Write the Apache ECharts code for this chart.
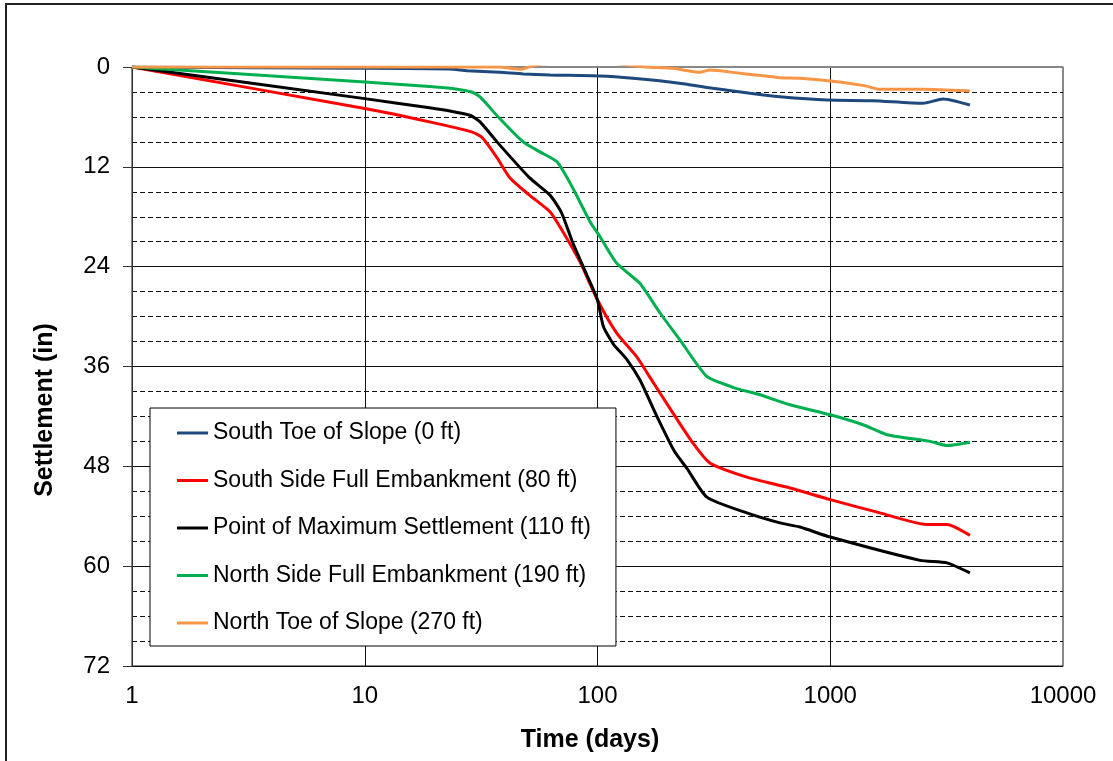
<!DOCTYPE html>
<html>
<head>
<meta charset="utf-8">
<script src="https://cdn.jsdelivr.net/npm/echarts@6/dist/echarts.min.js"></script>
<style>
  html, body { margin: 0; padding: 0; background: #fff; }
  #chart { width: 1113px; height: 761px; }
</style>
</head>
<body>
<div id="chart"></div>
<script>
// time in days (log axis), settlement in inches
const seriesNames = [
    'South Toe of Slope (0 ft)',
    'South Side Full Embankment (80 ft)',
    'Point of Maximum Settlement (110 ft)',
    'North Side Full Embankment (190 ft)',
    'North Toe of Slope (270 ft)'
];

const southToeDays = [1, 10, 23, 27.5, 38, 48, 62.5, 102, 142, 233, 313, 452, 608, 968, 1527, 2501, 3051, 3981];
const southToeVals = [0, 0.15, 0.25, 0.44, 0.64, 0.84, 0.96, 1.08, 1.36, 2.0, 2.56, 3.16, 3.57, 3.97, 4.05, 4.36, 3.85, 4.57];

const southSideDays = [1, 10, 19, 28.8, 32, 37, 42, 51, 62.5, 71, 84, 100, 121, 148, 168, 211, 257, 304, 438, 671, 1000, 1637, 2606, 3175, 3981];
const southSideVals = [0, 5.0, 6.6, 7.8, 8.5, 10.9, 13.3, 15.4, 17.4, 19.8, 23.4, 28.0, 32.0, 34.9, 37.3, 41.6, 45.2, 47.6, 49.3, 50.6, 52.0, 53.6, 55.0, 55.0, 56.3];

const maxPointDays = [1, 10, 19, 23.3, 28.3, 31.3, 37, 51, 62.5, 70, 78, 90, 100, 106, 117, 134, 152, 180, 214, 243, 295, 438, 608, 741, 1000, 2432, 3175, 3981];
const maxPointVals = [0, 3.8, 4.9, 5.3, 5.8, 6.6, 9.0, 13.3, 15.4, 17.5, 21.0, 25.0, 28.0, 31.2, 33.3, 35.2, 37.6, 42.0, 46.2, 48.3, 51.7, 53.6, 54.8, 55.3, 56.5, 59.3, 59.6, 60.8];

const northSideDays = [1, 10, 19, 23.3, 28.8, 31.3, 38, 47.9, 56.6, 67, 78.5, 92.9, 102.5, 121, 152, 186, 226, 295, 382, 499, 671, 1000, 1383, 1754, 2685, 3175, 3981];
const northSideVals = [0, 1.8, 2.35, 2.55, 3.0, 3.6, 6.2, 9.0, 10.2, 11.4, 14.6, 18.6, 20.4, 23.6, 26.0, 29.6, 32.8, 37.2, 38.5, 39.4, 40.6, 41.8, 43.0, 44.2, 45.0, 45.5, 45.1];

const northToeDays = [1, 10, 30, 38, 42, 47, 52, 60, 100, 150, 168, 211, 276, 304, 410, 608, 741, 1000, 1400, 1637, 2501, 3981];
const northToeVals = [0, 0, 0, 0, 0.16, 0.28, -0.1, -0.4, -0.6, -0.1, 0.02, 0.16, 0.64, 0.36, 0.76, 1.28, 1.36, 1.68, 2.24, 2.68, 2.68, 2.88];

const xTicks = [1, 10, 100, 1000, 10000];

const zip = (xs, ys) => xs.map((x, i) => [x, ys[i]]);
const font = '"Liberation Sans", Arial, sans-serif';

var chartDom = document.getElementById('chart');
var myChart = echarts.init(chartDom);

const seriesData = [
    zip(southToeDays, southToeVals),
    zip(southSideDays, southSideVals),
    zip(maxPointDays, maxPointVals),
    zip(northSideDays, northSideVals),
    zip(northToeDays, northToeVals)
];
const colors = ['#1F497D', '#FF0000', '#000000', '#00B050', '#F79646'];

let option = {
    animation: false,
    backgroundColor: '#fff',
    color: colors,
    grid: {
        left: 132, right: 50, top: 67, bottom: 95,
        show: true, borderColor: '#111', borderWidth: 1
    },
    xAxis: {
        type: 'log', logBase: 10, min: xTicks[0], max: xTicks[xTicks.length - 1],
        axisLine: { show: true, lineStyle: { color: '#888', width: 1 } },
        axisTick: { show: false },
        axisLabel: {
            margin: 18, color: '#000', fontSize: 24, fontFamily: font,
            formatter: v => String(Math.round(v))
        },
        splitLine: { show: true, lineStyle: { color: '#111', width: 1 } }
    },
    yAxis: [{
        type: 'value', inverse: true, min: 0, max: 72, interval: 12,
        axisLine: { show: true, lineStyle: { color: '#333', width: 1 } },
        axisTick: { show: true, inside: false, length: 9, lineStyle: { color: '#333' } },
        axisLabel: { margin: 22, color: '#000', fontSize: 24, fontFamily: font },
        splitLine: { show: true, lineStyle: { color: '#111', width: 1 } },
        minorTick: { show: false, splitNumber: 4 },
        minorSplitLine: { show: true, lineStyle: { color: '#111', width: 1, type: [5, 3] } }
    }, {
        type: 'value', position: 'right', inverse: true, min: 0, max: 72,
        axisLine: { show: true, lineStyle: { color: '#888', width: 1 } },
        axisTick: { show: false }, axisLabel: { show: false }, splitLine: { show: false }
    }],
    legend: {
        orient: 'vertical', left: 150, top: 408,
        padding: [13, 25, 11, 27],
        itemGap: 23.5, itemWidth: 31, itemHeight: 3, icon: 'rect',
        backgroundColor: '#fff', borderColor: '#000', borderWidth: 1,
        textStyle: { fontSize: 23, fontFamily: font, color: '#000', lineHeight: 24 },
        data: seriesNames
    },
    series: seriesNames.map((name, i) => ({
        name: name,
        type: 'line',
        data: seriesData[i],
        showSymbol: false,
        symbol: 'none',
        smooth: 0.2,
        clip: true,
        lineStyle: { width: 3, color: colors[i] },
        z: 2 + i
    })),
    graphic: [{
        type: 'rect', silent: true, z: -10,
        shape: { x: 6, y: 4, width: 1200, height: 1000 },
        style: { fill: 'none', stroke: '#222', lineWidth: 2 }
    }, {
        type: 'text', x: 45, y: 410, rotation: Math.PI / 2,
        style: { text: 'Settlement (in)', font: 'bold 25px ' + font, fill: '#000', align: 'center', verticalAlign: 'middle' }
    }, {
        type: 'text', x: 590, y: 740,
        style: { text: 'Time (days)', font: 'bold 25px ' + font, fill: '#000', align: 'center', verticalAlign: 'middle' }
    }]
};

option && myChart.setOption(option);

window.addEventListener('resize', function () {
    myChart.resize();
});
</script>
</body>
</html>
